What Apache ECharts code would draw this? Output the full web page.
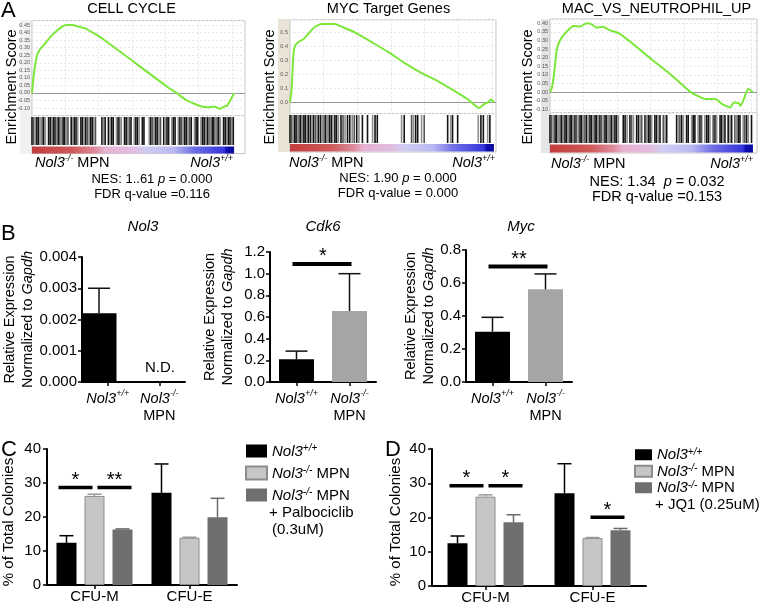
<!DOCTYPE html>
<html><head><meta charset="utf-8">
<script src="https://cdn.jsdelivr.net/npm/echarts@6/dist/echarts.min.js"></script>
<style>html,body{margin:0;padding:0;background:#fff}#c{width:768px;height:607px}</style>
</head><body><div id="c"></div>
<script>
// ---------------- DATA ----------------
const gseaTitles = ['CELL CYCLE', 'MYC Target Genes', 'MAC_VS_NEUTROPHIL_UP'];
const rankMax = 100;
const esCellCycle = [[0,0],[0.7,0.10],[1.5,0.18],[2.5,0.25],[4,0.29],[6,0.32],[9,0.37],[12,0.41],[15,0.44],[17,0.45],[20,0.45],[23,0.44],[26,0.43],[32,0.385],[37,0.34],[42,0.29],[47,0.24],[53,0.18],[58,0.13],[63,0.08],[67,0.04],[71.5,0.0],[76,-0.045],[80,-0.07],[84,-0.09],[87,-0.095],[90,-0.09],[93,-0.105],[95,-0.09],[96.5,-0.085],[98.7,-0.035],[100,0.0]];
const esMyc = [[0,0],[0.8,0.09],[1.6,0.33],[2.4,0.40],[4.1,0.43],[6.5,0.45],[9,0.49],[12.2,0.54],[15.5,0.56],[22,0.56],[25.3,0.54],[31.8,0.50],[40,0.43],[48.1,0.36],[56.3,0.28],[64.4,0.21],[72.6,0.15],[80.8,0.08],[87.3,0.02],[90.5,-0.02],[92.5,-0.04],[93.8,-0.03],[95.4,-0.01],[97,0.0],[98.7,0.02],[100,0.0]];
const esMac = [[0,0],[0.8,0.02],[1.6,0.07],[2.4,0.15],[3.3,0.245],[4.9,0.30],[7.3,0.34],[9.8,0.37],[11.4,0.385],[14.7,0.38],[17.9,0.40],[20.4,0.395],[22.8,0.375],[26.1,0.38],[29.4,0.36],[34.3,0.34],[42.4,0.265],[50.6,0.185],[58.7,0.11],[69.3,0.0],[76.7,-0.04],[81.6,-0.04],[84.8,-0.07],[88.9,-0.09],[90.5,-0.06],[93,-0.065],[93.8,-0.08],[95.4,-0.045],[97.6,0.02],[100,0.0]];
const hitsCellCycle = [0,0.8,1.6,2.4,3.2,4,5,5.8,6.6,8.2,9,9.8,10.6,11.4,12.2,13,13.8,14.6,15.4,16.2,17,17.8,19.4,20.2,21,21.8,22.6,24.2,25,25.8,26.6,27.4,28.2,29,29.8,30.6,31.4,34.6,35.4,36.2,37.8,38.6,39.4,40.2,41.8,42.6,43.4,44.2,45.8,46.6,47.4,48.2,49,50.6,51.4,52.2,53,54.6,55.4,58,58.8,59.6,60.4,61.2,62,62.8,63.6,65.2,66,66.8,67.6,69.2,70,70.8,72.4,73.2,74,74.8,75.6,76.4,77.2,78,78.8,80.4,81.2,82,83.6,84.4,85.2,86,86.8,87.6,88.4,89.2,90,90.8,91.6,92.4,93.2,94.8,95.6,96.4,97.2,98,98.8,99.6];
const hitsMyc = [0,0.8,1.5,2.3,3,3.8,4.5,5.3,6,6.8,7.5,8.3,9,10,10.8,11.6,12.5,13.3,14,15,15.8,16.7,17.5,18.4,19.3,20.2,21,22,22.8,23.7,25,26,27,28.2,29.3,30.5,31.5,32.7,33.8,35.5,38,40.5,41.7,42.8,54.7,56,59.6,60.5,61.6,62.6,64.5,65.8,77.3,78.8,79.7,82.2,92.3,93.6,94.8,96.9,98];
const hitsMac = [0,0.8,1.6,2.5,3.3,4.1,5,5.8,6.6,7.4,8.2,9,9.9,10.7,11.5,12.3,13.1,14,14.8,15.6,16.4,17.2,18,18.9,19.7,20.5,21.3,22.2,23,23.8,24.6,25.4,26.3,27.1,27.9,28.7,29.6,30.4,31.2,32,32.8,33.7,36.1,37,38,39.4,40.2,41.1,42.7,43.6,44.4,45.2,46.8,47.6,48.5,49.3,50.1,51.7,52.5,53.4,54.2,55.8,56.7,57.5,62.4,63.2,64,64.9,65.7,67.3,68.1,69.8,70.6,71.4,73,73.9,74.7,76.3,77.2,78,78.8,80.4,81.3,82.1,83.8,84.6,85.4,86.2,87.8,88.7,89.5,91.1,92,92.8,93.6,95.2,96,96.9,97.7,99.3];
const nesValues = ['1..61', '1.90', '1.34'];
const pValues = ['0.000', '0.000', '0.032'];
const fdrLabels = ['FDR q-value =0.116', 'FDR q-value = 0.000', 'FDR q-value =0.153'];

const qpcrGenes = ['Nol3', 'Cdk6', 'Myc'];
const qpcrGroups = ['Nol3+/+', 'Nol3-/- MPN'];
const nol3Mean = [0.0022, null];
const nol3Err = [0.0008, null];
const cdk6Mean = [0.21, 0.655];
const cdk6Err = [0.075, 0.345];
const mycMean = [0.305, 0.562];
const mycErr = [0.087, 0.093];
const cdk6Sig = [[0, 1, 1.09, '*']];
const mycSig = [[0, 1, 0.70, '**']];
const nol3Ticks = [0, 0.004, 0.001];
const cdk6Ticks = [0, 1.2, 0.2];
const mycTicks = [0, 0.8, 0.2];

const cfuTypes = ['CFU-M', 'CFU-E'];
const cWT = [12.4, 27.1], cWTErr = [2.1, 8.5];
const cKO = [26.2, 13.9], cKOErr = [0.5, 0.15];
const cPalbo = [16.3, 19.9], cPalboErr = [0.2, 5.6];
const dWT = [12.5, 27.1], dWTErr = [2.1, 8.6];
const dKO = [26.1, 14.0], dKOErr = [0.5, 0.15];
const dJQ1 = [18.6, 16.3], dJQ1Err = [2.2, 0.5];
const cSig = [[0, 0, 1, 28.7, '*'], [0, 1, 2, 28.7, '**']];
const dSig = [[0, 0, 1, 29.3, '*'], [0, 1, 2, 29.3, '*'], [1, 1, 2, 20.1, '*']];
const cfuTicks = [0, 40, 10];
const seriesNames = ['Nol3+/+', 'Nol3-/- MPN', 'Nol3-/- MPN + Palbociclib (0.3uM)', 'Nol3-/- MPN + JQ1 (0.25uM)'];

// ---------------- STYLE / LAYOUT ----------------
const F = '"Liberation Sans", Arial, Helvetica, sans-serif';
const chart = echarts.init(document.getElementById('c'), null, {renderer: 'canvas'});
const grids = [], xAxes = [], yAxes = [], series = [], graphics = [];
function addGrid(g) { grids.push(Object.assign({outerBoundsMode: 'none', containLabel: false}, g)); return grids.length - 1; }
function rich(sz, lh) {
  return {
    i: {fontFamily: F, fontSize: sz, fontStyle: 'italic', fill: '#000', color: '#000', lineHeight: lh, verticalAlign: 'bottom'},
    n: {fontFamily: F, fontSize: sz, fill: '#000', color: '#000', lineHeight: lh, verticalAlign: 'bottom'},
    s: {fontFamily: F, fontSize: Math.round(sz * 0.64), fontStyle: 'italic', fill: '#000', color: '#000', lineHeight: Math.round(sz * 0.72), verticalAlign: 'top'}
  };
}
function txt(x, y, text, st, el) {
  graphics.push(Object.assign({type: 'text', x: x, y: y, z: 100,
    style: Object.assign({text: text, fill: '#000', fontFamily: F, fontSize: 15, align: 'center', verticalAlign: 'middle'}, st || {})}, el || {}));
}
function geno(name) {
  if (name.indexOf('+/+') >= 0) return '{i|Nol3}{s|+/+}';
  return '{i|Nol3}{s|-/-}{n| MPN}';
}

// ---------------- PANEL A : GSEA ----------------
const esData = [esCellCycle, esMyc, esMac];
const hitData = [hitsCellCycle, hitsMyc, hitsMac];
const gseaLayout = [
  {left: 32, width: 213, esTop: 20.6, esH: 95, yMin: -0.15, yMax: 0.48, interval: 0.05, dec: 2, xMax: 105.4,
   hitTop: 115.6, hitH: 38, hitsY: 117, hitsH: 28, cbTop: 146.5, cbH: 7, strip: [20, 20, 12, 134], stripColor: '#f1f1f1',
   titleX: 131.5, yl: 12, lblL: 35, lblR: 233, nesX: 152, nesSz: 13, lblY: 162, nesY: 178, fdrY: 194},
  {left: 290, width: 206, esTop: 19.7, esH: 93.8, yMin: -0.08, yMax: 0.59, split: 6, dec: 1, xMax: 101,
   hitTop: 113.5, hitH: 38.5, hitsY: 115, hitsH: 28, cbTop: 144, cbH: 7.5, strip: [278, 19, 12, 133], stripColor: '#e9e4d6',
   titleX: 388.5, yl: 270, lblL: 289, lblR: 495, nesX: 398, nesSz: 13, lblY: 162, nesY: 177, fdrY: 193},
  {left: 550, width: 207, esTop: 19, esH: 93.7, yMin: -0.12, yMax: 0.425, split: 11, dec: 2, xMax: 102,
   hitTop: 112.7, hitH: 40.3, hitsY: 115, hitsH: 28, cbTop: 144.5, cbH: 8, strip: [541, 19, 9, 134], stripColor: '#e5e5e5',
   titleX: 656.5, yl: 528, lblL: 551, lblR: 753, nesX: 657, nesSz: 14.5, lblY: 163, nesY: 181, fdrY: 197}
];
const rankGradient = [
  {offset: 0, color: '#c23c3c'}, {offset: 0.2, color: '#cf5a5a'}, {offset: 0.31, color: '#dc8a9a'},
  {offset: 0.36, color: '#e6b2d2'}, {offset: 0.5, color: '#e2bde0'}, {offset: 0.56, color: '#cfcdf2'},
  {offset: 0.7, color: '#b9b9f2'}, {offset: 0.8, color: '#6f6fe6'}, {offset: 0.95, color: '#3535dc'},
  {offset: 0.965, color: '#0c0cb0'}, {offset: 1, color: '#0a0a9a'}
];
gseaLayout.forEach(function (L, k) {
  graphics.push({type: 'rect', shape: {x: L.strip[0], y: L.strip[1], width: L.strip[2], height: L.strip[3]}, style: {fill: L.stripColor}, z: -10});
  const gi = addGrid({left: L.left, top: L.esTop, width: L.width, height: L.esH, show: true, borderColor: '#c4c4c4', borderWidth: 1, backgroundColor: '#fff'});
  xAxes.push({type: 'value', gridIndex: gi, min: 0, max: L.xMax, interval: 16.5, axisLine: {show: false}, axisTick: {show: false}, axisLabel: {show: false},
    splitLine: {show: true, lineStyle: {color: '#e6e6e6', type: [2, 2]}}});
  const ya = {type: 'value', gridIndex: gi, min: L.yMin, max: L.yMax, axisLine: {show: false}, axisTick: {show: false},
    axisLabel: {fontSize: 5.5, color: '#555', margin: 2, fontFamily: F, showMinLabel: false, showMaxLabel: false, formatter: function (v) { return v.toFixed(L.dec); }},
    splitLine: {show: true, lineStyle: {color: '#e6e6e6', type: [2, 2]}}};
  if (L.interval) ya.interval = L.interval; else ya.splitNumber = L.split;
  yAxes.push(ya);
  series.push({type: 'line', name: gseaTitles[k], xAxisIndex: xAxes.length - 1, yAxisIndex: yAxes.length - 1, data: esData[k], showSymbol: false, smooth: 0.15,
    lineStyle: {color: '#7de63a', width: 2}, z: 5, silent: true,
    markLine: {silent: true, symbol: 'none', label: {show: false}, lineStyle: {color: '#9a9a9a', type: 'solid', width: 1}, data: [{yAxis: 0}]}});
  const hi = addGrid({left: L.left, top: L.hitTop, width: L.width, height: L.hitH, show: true, borderColor: '#c4c4c4', borderWidth: 1, backgroundColor: '#fff'});
  xAxes.push({type: 'value', gridIndex: hi, min: 0, max: L.xMax, show: false});
  yAxes.push({type: 'value', gridIndex: hi, min: 0, max: 1, show: false});
  series.push({type: 'custom', xAxisIndex: xAxes.length - 1, yAxisIndex: yAxes.length - 1, silent: true, z: 4,
    data: hitData[k].map(function (v) { return [v, 0.5]; }), encode: {x: 0, y: 1},
    renderItem: function (params, api) {
      const x = api.coord([api.value(0), 0])[0];
      const i = params.dataIndex;
      const col = (i % 3 === 2) ? '#8f8f8f' : ((i % 5 === 1) ? '#555' : '#141414');
      return {type: 'rect', shape: {x: x - 0.8, y: L.hitsY, width: 1.6, height: L.hitsH}, style: {fill: col}};
    }});
  const ci = addGrid({left: L.left, top: L.cbTop, width: L.width, height: L.cbH});
  xAxes.push({type: 'value', gridIndex: ci, min: 0, max: L.xMax, show: false});
  yAxes.push({type: 'category', gridIndex: ci, data: ['rank'], show: false});
  series.push({type: 'bar', xAxisIndex: xAxes.length - 1, yAxisIndex: yAxes.length - 1, data: [rankMax], barWidth: '100%', silent: true, z: 4,
    itemStyle: {color: new echarts.graphic.LinearGradient(0, 0, 1, 0, rankGradient)}});
  txt(L.titleX, 9, gseaTitles[k], {fontSize: 14.5});
  txt(L.yl, 87, 'Enrichment Score', {fontSize: 14.5}, {rotation: Math.PI / 2});
  txt(L.lblL, L.lblY, geno('Nol3-/- MPN'), {align: 'left', rich: rich(14.5, 17)});
  txt(L.lblR, L.lblY, geno('Nol3+/+'), {align: 'right', rich: rich(14.5, 17)});
  txt(L.nesX, L.nesY, '{n|NES: ' + nesValues[k] + (k === 2 ? '  ' : ' ') + '}{i|p}{n| = ' + pValues[k] + '}', {rich: rich(L.nesSz, 16)});
  txt(L.nesX, L.fdrY, fdrLabels[k], {fontSize: L.nesSz});
});
txt(1, 11, 'A', {fontSize: 22, align: 'left'});

// ---------------- helpers for bar panels ----------------
function errRender(offsetPx, capW, color) {
  return function (params, api) {
    const cat = api.value(0), m = api.value(1), e = api.value(2);
    const p0 = api.coord([cat, m]), p1 = api.coord([cat, m + e]);
    const x = p0[0] + offsetPx;
    return {type: 'group', children: [
      {type: 'line', shape: {x1: x, y1: p0[1], x2: x, y2: p1[1]}, style: {stroke: color, lineWidth: 1.5}},
      {type: 'line', shape: {x1: x - capW / 2, y1: p1[1], x2: x + capW / 2, y2: p1[1]}, style: {stroke: color, lineWidth: 1.5}}
    ]};
  };
}
function sigRender(rows, offsets, lw, starSize) {
  return function (params, api) {
    const r = rows[params.dataIndex];
    const c = api.coord([r[0], r[3]]);
    const ca = c[0] + offsets[r[1]], cb = c[0] + offsets[r[2]];
    const shift = r[0] === 0 ? (r[1] === 0 ? -5 : 6) : 1;
    const mid = (ca + cb) / 2 + shift, half = 17;
    const y = c[1];
    return {type: 'group', children: [
      {type: 'line', shape: {x1: mid - half, y1: y, x2: mid + half, y2: y}, style: {stroke: '#000', lineWidth: lw}},
      {type: 'text', style: {text: r[4], x: mid, y: y - 7, align: 'center', verticalAlign: 'middle', fontFamily: F, fontSize: starSize, fill: '#000'}}
    ]};
  };
}
function sigRenderB(rows, lw, starSize) {
  return function (params, api) {
    const r = rows[params.dataIndex];
    const a = api.coord([r[0], r[2]]), b = api.coord([r[1], r[2]]);
    return {type: 'group', children: [
      {type: 'line', shape: {x1: a[0] - 4, y1: a[1], x2: b[0] + 2, y2: b[1]}, style: {stroke: '#000', lineWidth: lw}},
      {type: 'text', style: {text: r[3], x: (a[0] + b[0]) / 2, y: a[1] - 7, align: 'center', verticalAlign: 'middle', fontFamily: F, fontSize: starSize, fill: '#000'}}
    ]};
  };
}
const blackAxis = {show: true, lineStyle: {color: '#000', width: 2}};
const blackTick = {show: true, length: 4, lineStyle: {color: '#000', width: 1.5}};

// ---------------- PANEL B : qPCR ----------------
const bMeans = [nol3Mean, cdk6Mean, mycMean];
const bErrs = [nol3Err, cdk6Err, mycErr];
const bTicks = [nol3Ticks, cdk6Ticks, mycTicks];
const bSigs = [[], cdk6Sig, mycSig];
const bLayout = [
  {left: 82, top: 257, width: 103, height: 125, dec: 3, titleX: 143, nameGap: 47, shiftBar: true},
  {left: 270, top: 252, width: 106, height: 130, dec: 1, titleX: 323, nameGap: 34.5},
  {left: 466, top: 250, width: 106, height: 132, dec: 1, titleX: 521, nameGap: 29}
];
const bColors = ['#000', '#a5a5a5'];
bLayout.forEach(function (L, k) {
  const gi = addGrid({left: L.left, top: L.top, width: L.width, height: L.height});
  xAxes.push({type: 'category', gridIndex: gi, data: qpcrGroups, axisLine: blackAxis, axisTick: Object.assign({alignWithLabel: true}, blackTick),
    axisLabel: {interval: 0, margin: 7, color: '#000', formatter: function (v) { return v.indexOf('+/+') >= 0 ? '{i|Nol3}{s|+/+}' : '{i|Nol3}{s|-/-}\n{n|MPN}'; }, rich: rich(14.5, 17)},
    splitLine: {show: false}});
  yAxes.push({type: 'value', gridIndex: gi, min: bTicks[k][0], max: bTicks[k][1], interval: bTicks[k][2], axisLine: blackAxis, axisTick: blackTick,
    name: '{n|Relative Expression}\n{n|Normalized to }{i|Gapdh}', nameLocation: 'middle', nameRotate: 90, nameGap: L.nameGap,
    nameTextStyle: {rich: rich(14.5, 18)},
    axisLabel: {color: '#000', fontSize: 15, fontFamily: F, margin: 5, formatter: function (v) { return v.toFixed(L.dec); }}, splitLine: {show: false}});
  const xi = xAxes.length - 1, yi = yAxes.length - 1;
  series.push({type: 'bar', name: qpcrGenes[k], xAxisIndex: xi, yAxisIndex: yi, barWidth: 35, z: 2, barGap: '-50%',
    data: bMeans[k].map(function (v, i) { return {value: v == null ? '-' : v, itemStyle: {color: bColors[i]}}; })});
  if (L.shiftBar) {
    // empty companion series: only nudges the Nol3 bar toward the axis as in the original
    series.push({type: 'bar', xAxisIndex: xi, yAxisIndex: yi, barWidth: 35, barGap: '-50%', data: ['-', '-'], silent: true});
  }
  const ed = [];
  bMeans[k].forEach(function (v, i) { if (v != null) ed.push([i, v, bErrs[k][i]]); });
  series.push({type: 'custom', xAxisIndex: xi, yAxisIndex: yi, z: 3, silent: true, data: ed, encode: {x: 0, y: 1},
    renderItem: errRender(L.shiftBar ? -8.75 : 0, 22, '#111')});
  if (bSigs[k].length) {
    series.push({type: 'custom', xAxisIndex: xi, yAxisIndex: yi, z: 3, silent: true, data: bSigs[k].map(function (r) { return [r[0], r[2]]; }), encode: {x: 0, y: 1},
      renderItem: sigRenderB(bSigs[k], 4, 20)});
  }
  txt(L.titleX, 227, qpcrGenes[k], {fontSize: 15, fontStyle: 'italic'});
});
txt(160, 368, 'N.D.', {fontSize: 15});
txt(1, 234, 'B', {fontSize: 22, align: 'left'});

// ---------------- PANELS C & D : colonies ----------------
const cdSets = [
  {means: [cWT, cKO, cPalbo], errs: [cWTErr, cKOErr, cPalboErr], sig: cSig, names: [seriesNames[0], seriesNames[1], seriesNames[2]],
   left: 47, width: 190, top: 449, height: 136, ylX: 9},
  {means: [dWT, dKO, dJQ1], errs: [dWTErr, dKOErr, dJQ1Err], sig: dSig, names: [seriesNames[0], seriesNames[1], seriesNames[3]],
   left: 432, width: 214, top: 449, height: 137, ylX: 396}
];
const cdColors = [{color: '#000'}, {color: '#c6c6c6', borderColor: '#8c8c8c', borderWidth: 1}, {color: '#6f6f6f'}];
const cdErrColors = ['#000', '#9a9a9a', '#6a6a6a'];
const cdOffsets = [-28, 0, 28];
cdSets.forEach(function (S) {
  const gi = addGrid({left: S.left, top: S.top, width: S.width, height: S.height});
  xAxes.push({type: 'category', gridIndex: gi, data: cfuTypes, axisLine: blackAxis, axisTick: Object.assign({alignWithLabel: true}, blackTick),
    axisLabel: {interval: 0, margin: 4, color: '#000', fontSize: 15, fontFamily: F}, splitLine: {show: false}});
  yAxes.push({type: 'value', gridIndex: gi, min: cfuTicks[0], max: cfuTicks[1], interval: cfuTicks[2], axisLine: blackAxis, axisTick: blackTick,
    axisLabel: {color: '#000', fontSize: 15, fontFamily: F, margin: 6}, splitLine: {show: false}});
  const xi = xAxes.length - 1, yi = yAxes.length - 1;
  S.means.forEach(function (m, j) {
    series.push({type: 'bar', name: S.names[j], xAxisIndex: xi, yAxisIndex: yi, barWidth: 20, barGap: '40%', z: 2, data: m, itemStyle: cdColors[j]});
  });
  S.means.forEach(function (m, j) {
    series.push({type: 'custom', xAxisIndex: xi, yAxisIndex: yi, z: 3, silent: true, encode: {x: 0, y: 1},
      data: m.map(function (v, i) { return [i, v, S.errs[j][i]]; }), renderItem: errRender(cdOffsets[j], 14, cdErrColors[j])});
  });
  series.push({type: 'custom', xAxisIndex: xi, yAxisIndex: yi, z: 3, silent: true, encode: {x: 0, y: 1},
    data: S.sig.map(function (r) { return [r[0], r[3]]; }), renderItem: sigRender(S.sig, cdOffsets, 3.5, 20)});
  txt(S.ylX, 522, '% of Total Colonies', {fontSize: 15}, {rotation: Math.PI / 2});
});
txt(1, 450, 'C', {fontSize: 22, align: 'left'});
txt(385, 450, 'D', {fontSize: 22, align: 'left'});
txt(269, 513, '+ Palbociclib', {fontSize: 15, align: 'left'});
txt(272, 530, '(0.3uM)', {fontSize: 15, align: 'left'});
txt(655, 505, '+ JQ1 (0.25uM)', {fontSize: 15, align: 'left'});

const legendCommon = {orient: 'vertical', icon: 'rect', selectedMode: false, padding: 0,
  formatter: function (name) { return geno(name); }};
const option = {
  animation: false,
  backgroundColor: '#fff',
  grid: grids, xAxis: xAxes, yAxis: yAxes, series: series,
  legend: [
    Object.assign({}, legendCommon, {data: [seriesNames[0], seriesNames[1], seriesNames[2]], left: 245, top: 443, itemWidth: 21, itemHeight: 13, itemGap: 6,
      textStyle: {rich: rich(15, 16)}}),
    Object.assign({}, legendCommon, {data: [seriesNames[0], seriesNames[1], seriesNames[3]], left: 634, top: 447, itemWidth: 17, itemHeight: 11, itemGap: 1,
      textStyle: {rich: rich(15, 15.5)}})
  ],
  graphic: graphics
};
chart.setOption(option);
</script></body></html>
